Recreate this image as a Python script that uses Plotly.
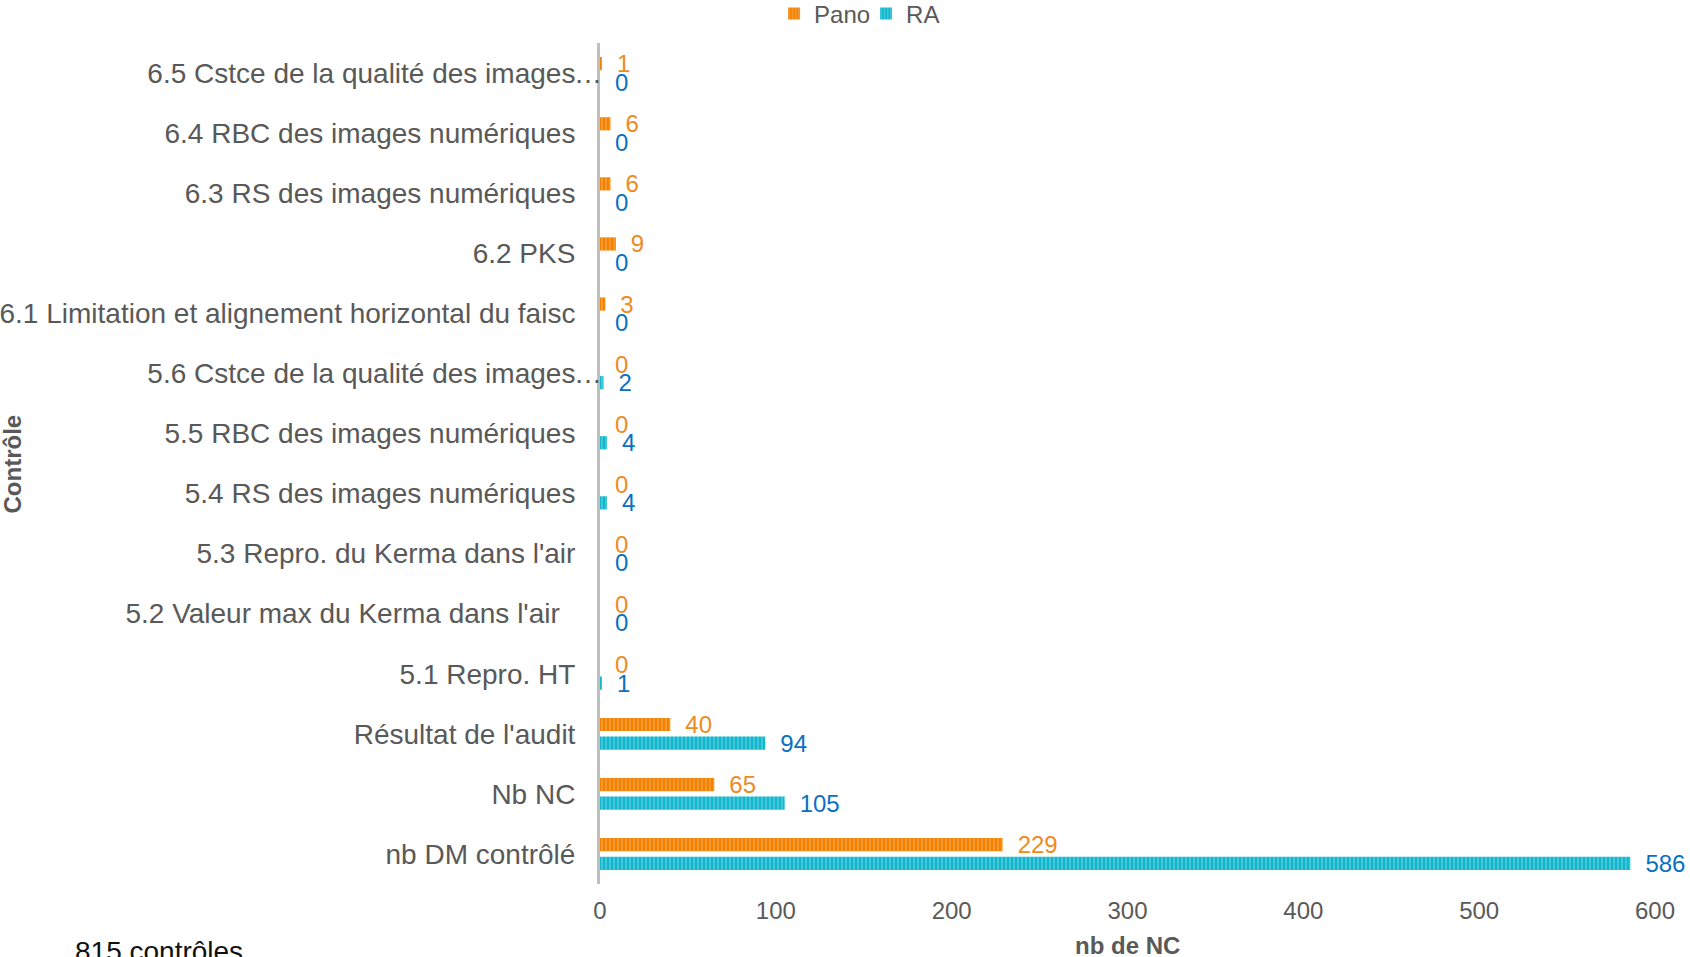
import plotly.graph_objects as go

categories = [
    "6.5 Cstce de la qualité des images",
    "6.4 RBC des images numériques",
    "6.3 RS des images numériques",
    "6.2 PKS",
    "6.1 Limitation et alignement horizontal du faisc",
    "5.6 Cstce de la qualité des images",
    "5.5 RBC des images numériques",
    "5.4 RS des images numériques",
    "5.3 Repro. du Kerma dans l'air",
    "5.2 Valeur max du Kerma dans l'air\u00a0\u00a0",
    "5.1 Repro. HT",
    "Résultat de l'audit",
    "Nb NC",
    "nb DM contrôlé",
]
pano = [1, 6, 6, 9, 3, 0, 0, 0, 0, 0, 0, 40, 65, 229]
ra = [0, 0, 0, 0, 0, 2, 4, 4, 0, 0, 1, 94, 105, 586]
x_ticks = [0, 100, 200, 300, 400, 500, 600]
ellipsis_cats = ["6.5 Cstce de la qualité des images", "5.6 Cstce de la qualité des images"]

FONT = "Liberation Sans, Arial, sans-serif"
GRAY = "#595959"
ORANGE = "#F28200"
CYAN = "#12B6CD"

fig = go.Figure()
fig.add_trace(go.Bar(
    name="Pano", y=categories, x=pano, orientation="h",
    marker=dict(color=ORANGE, line=dict(width=0),
                pattern=dict(shape="|", fgcolor="#FAC08A", bgcolor=ORANGE, size=4, solidity=0.35)),
    texttemplate="\u2002%{x}", textposition="outside", constraintext="none", cliponaxis=False,
    textfont=dict(family=FONT, size=24, color="#F08A1E"),
))
fig.add_trace(go.Bar(
    name="RA", y=categories, x=ra, orientation="h",
    marker=dict(color=CYAN, line=dict(width=0),
                pattern=dict(shape="|", fgcolor="#95E0EA", bgcolor=CYAN, size=4, solidity=0.35)),
    texttemplate="\u2002%{x}", textposition="outside", constraintext="none", cliponaxis=False,
    textfont=dict(family=FONT, size=24, color="#0A70C2"),
))

annotations = []
for c in ellipsis_cats:
    annotations.append(dict(x=0, y=c, xref="x", yref="y", text="…", showarrow=False,
                            xanchor="right", xshift=4, font=dict(family=FONT, size=28, color=GRAY)))
annotations += [
    dict(text="<b>Contrôle</b>", x=-0.5564, y=0.5, xref="paper", yref="paper", textangle=-90,
         showarrow=False, xanchor="center", yanchor="middle", font=dict(family=FONT, size=24, color=GRAY)),
    dict(text="<b>nb de NC</b>", x=0.5, y=-0.0737, xref="paper", yref="paper",
         showarrow=False, xanchor="center", yanchor="middle", font=dict(family=FONT, size=24, color=GRAY)),
    dict(text="815 contrôles", x=-0.4995, y=-0.0800, xref="paper", yref="paper",
         showarrow=False, xanchor="left", yanchor="middle", font=dict(family=FONT, size=28, color="#111111")),
]

fig.update_layout(
    width=1690, height=957,
    margin=dict(l=600, r=35, t=43, b=73, autoexpand=False),
    paper_bgcolor="white", plot_bgcolor="white",
    barmode="group", bargap=0.38, bargroupgap=0.29,
    font=dict(family=FONT, color=GRAY),
    showlegend=True,
    legend=dict(orientation="h", xref="paper", yref="paper", x=0.1650, y=1.0614,
                xanchor="left", yanchor="top", font=dict(family=FONT, size=24, color=GRAY),
                itemwidth=30, tracegroupgap=0, traceorder="normal", bgcolor="rgba(0,0,0,0)",
                entrywidth=47, entrywidthmode="pixels"),
    annotations=annotations,
)
fig.update_xaxes(range=[0, 600], tickvals=x_ticks, showgrid=False, zeroline=False, showline=False,
                 automargin=False,
                 ticks="", tickfont=dict(family=FONT, size=24, color=GRAY), ticklabelstandoff=10)
fig.update_yaxes(autorange="reversed", showgrid=False, zeroline=False, showline=True, automargin=False,
                 linecolor="#BFBFBF", linewidth=3, ticks="", ticklabelstandoff=16,
                 tickfont=dict(family=FONT, size=28, color=GRAY))

fig.write_html("out.html")
